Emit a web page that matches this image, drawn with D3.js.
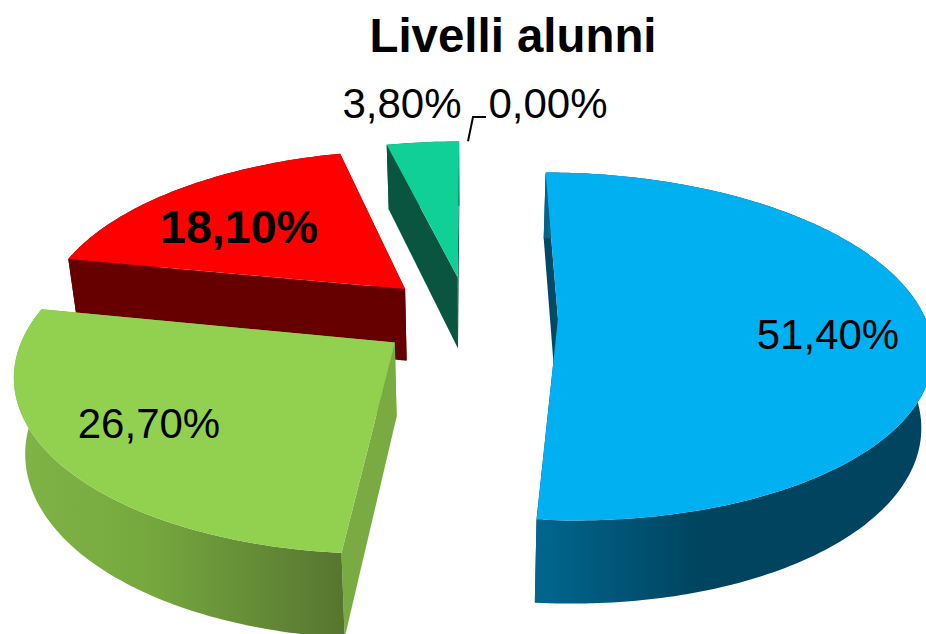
<!DOCTYPE html>
<html>
<head>
<meta charset="utf-8">
<script src="https://cdn.jsdelivr.net/npm/d3@7"></script>
<style>
    html, body { margin: 0; padding: 0; background: #fff; }
    svg { display: block; }
    text { font-family: "Liberation Sans", Arial, sans-serif; fill: #000; }
</style>
</head>
<body>
<div id="chart"></div>
<script>
    // values, clockwise from 12 o'clock
    var values = [51.4, 26.7, 18.1, 3.8, 0];
    var labels = ["51,40%", "26,70%", "18,10%", "3,80%", "0,00%"];
    var title = "Livelli alunni";

    var topColors = ["#00b0f0", "#92d050", "#ff0000", "#10cf97", "#10cf97"];
    var faceColors = ["#004a68", "#7aab42", "#660000", "#0a5540", "#0a5540"];

    // label centre x, baseline y
    var labelPos = [[828, 349], [149, 438], [239, 243], [402, 118], [548, 118]];
    var labelSize = [42, 42, 46.6, 42, 42];

    var width = 926, height = 634;
    var cx = 468, cy = 317;
    var rxRight = 367, rxLeft = 365, ry = 169;
    var persp = 0.1586;   // how fast things grow toward the viewer
    var explode = 0.245;
    var depth = 73;

    const svg = d3.select("#chart")
        .append("svg")
        .attr("width", width)
        .attr("height", height)
        .attr("viewBox", [0, 0, width, height]);

    // plane coords: u to the right, v toward the viewer
    function project(u, v) {
        var w = 1 / (1 - persp * v);
        return [cx + (u < 0 ? rxLeft : rxRight) * u * w, cy + ry * v * w];
    }

    // same point on the underside of the pie
    function lower(p) {
        return [cx + (p[0] - cx) * 0.975, p[1] + depth + 0.05 * (p[1] - cy)];
    }

    var pie = d3.pie().sort(null).value(function(d) { return d; });
    var arcs = pie(values);
    var line = d3.line();

    function apex(d) {
        var mid = (d.startAngle + d.endAngle) / 2;
        return [explode * Math.sin(mid), -explode * Math.cos(mid)];
    }

    function rim(d, a) {
        var c = apex(d);
        return project(c[0] + Math.sin(a), c[1] - Math.cos(a));
    }

    function rimPoints(d) {
        var n = Math.max(2, Math.ceil((d.endAngle - d.startAngle) * 60));
        return d3.range(n + 1).map(function(i) {
            return rim(d, d.startAngle + (d.endAngle - d.startAngle) * i / n);
        });
    }

    function apexPoint(d) {
        var c = apex(d);
        return project(c[0], c[1]);
    }

    // wall shading, only blue and green show enough of it
    var defs = svg.append("defs");
    function wallGradient(id, x1, x2, stops) {
        var g = defs.append("linearGradient")
            .attr("id", id)
            .attr("gradientUnits", "userSpaceOnUse")
            .attr("x1", x1).attr("x2", x2)
            .attr("y1", 0).attr("y2", 0);
        stops.forEach(function(s) {
            g.append("stop").attr("offset", s[0]).attr("stop-color", s[1]);
        });
    }
    wallGradient("wall0", 535, 926, [[0, "#00678f"], [0.42, "#00445f"], [1, "#00445f"]]);
    wallGradient("wall1", 16, 345, [[0, "#7fb446"], [0.4, "#76a83f"], [1, "#567530"]]);
    wallGradient("wall2", 60, 410, [[0, "#660000"], [1, "#660000"]]);
    wallGradient("wall3", 380, 460, [[0, "#0a5540"], [1, "#0a5540"]]);

    // painter's order: back slices first
    var order = [3, 2, 1, 0];

    order.forEach(function(i) {
        var d = arcs[i];
        var g = svg.append("g").attr("class", "slice");
        var pts = rimPoints(d);
        var a = apexPoint(d);

        // the two cut faces
        [pts[0], pts[pts.length - 1]].forEach(function(p) {
            g.append("path")
                .attr("d", line([a, p, lower(p), lower(a)]) + "Z")
                .attr("fill", faceColors[i]);
        });

        // outer wall
        g.append("path")
            .attr("d", line(pts.concat(pts.map(lower).reverse())) + "Z")
            .attr("fill", "url(#wall" + i + ")");

        // top
        g.append("path")
            .attr("d", line([a].concat(pts)) + "Z")
            .attr("fill", topColors[i]);
    });

    // title
    svg.append("text")
        .attr("x", 513)
        .attr("y", 52)
        .attr("text-anchor", "middle")
        .style("font-size", "47.4px")
        .style("font-weight", "bold")
        .text(title);

    // data labels
    svg.selectAll(".label")
        .data(labels)
        .enter().append("text")
        .attr("class", "label")
        .attr("x", function(d, i) { return labelPos[i][0]; })
        .attr("y", function(d, i) { return labelPos[i][1]; })
        .attr("text-anchor", "middle")
        .style("font-size", function(d, i) { return labelSize[i] + "px"; })
        .style("font-weight", function(d, i) { return i == 2 ? "bold" : "normal"; })
        .text(function(d) { return d; });

    // leader for the empty slice
    var tip = rim(arcs[4], arcs[4].startAngle);
    svg.append("path")
        .attr("d", line([tip, [473, 117], [486, 117]]))
        .attr("fill", "none")
        .attr("stroke", "#000")
        .attr("stroke-width", 2);
</script>
</body>
</html>
